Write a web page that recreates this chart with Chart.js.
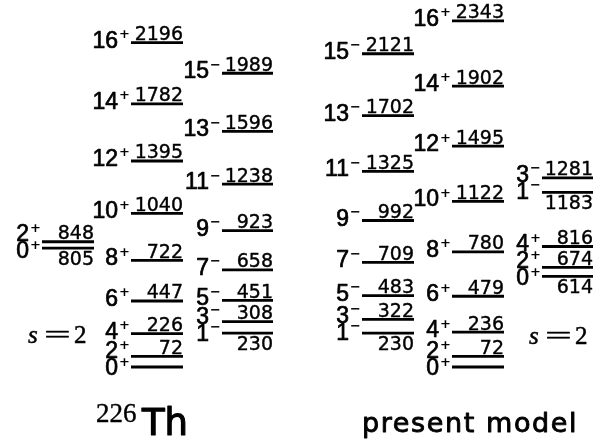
<!DOCTYPE html>
<html>
<head>
<meta charset="utf-8">
<script src="https://cdn.jsdelivr.net/npm/chart.js@4/dist/chart.umd.min.js"></script>
<style>
  html, body { margin: 0; padding: 0; background: #fff; }
  canvas { display: block; }
</style>
</head>
<body>
<canvas id="levels" width="608" height="445"></canvas>
<script>
// level energies (keV)
const thSpinsS2 = ['0+', '2+'];
const thEnergiesS2 = [805, 848];
const thSpinsGsb = ['0+', '2+', '4+', '6+', '8+', '10+', '12+', '14+', '16+'];
const thEnergiesGsb = [0, 72, 226, 447, 722, 1040, 1395, 1782, 2196];
const thSpinsOdd = ['1-', '3-', '5-', '7-', '9-', '11-', '13-', '15-'];
const thEnergiesOdd = [230, 308, 451, 658, 923, 1238, 1596, 1989];

const modelSpinsOdd = ['1-', '3-', '5-', '7-', '9-', '11-', '13-', '15-'];
const modelEnergiesOdd = [230, 322, 483, 709, 992, 1325, 1702, 2121];
const modelSpinsGsb = ['0+', '2+', '4+', '6+', '8+', '10+', '12+', '14+', '16+'];
const modelEnergiesGsb = [0, 72, 236, 479, 780, 1122, 1495, 1902, 2343];
const modelSpinsS2 = ['0+', '2+', '4+', '1-', '3-'];
const modelEnergiesS2 = [614, 674, 816, 1183, 1281];

// column layout (x axis runs 0..608)
const columns = [
  { spins: thSpinsS2, energies: thEnergiesS2, from: 42, to: 94 },
  { spins: thSpinsGsb, energies: thEnergiesGsb, from: 131, to: 183 },
  { spins: thSpinsOdd, energies: thEnergiesOdd, from: 222, to: 273 },
  { spins: modelSpinsOdd, energies: modelEnergiesOdd, from: 362, to: 414 },
  { spins: modelSpinsGsb, energies: modelEnergiesGsb, from: 452, to: 504 },
  { spins: modelSpinsS2, energies: modelEnergiesS2, from: 542, to: 593 }
];

function segments(col) {
  const pts = [];
  col.energies.forEach(e => {
    pts.push({ x: col.from, y: e }, { x: col.to, y: e }, { x: col.to, y: null });
  });
  return pts;
}

// fill text and thicken it a little, like the scanned original
function heavyText(ctx, txt, px, py, w) {
  ctx.lineWidth = w;
  ctx.strokeText(txt, px, py);
  ctx.fillText(txt, px, py);
}

const levelLabels = {
  id: 'levelLabels',
  afterDatasetsDraw(chart) {
    const { ctx, scales: { x, y } } = chart;
    ctx.save();
    ctx.fillStyle = '#000';
    ctx.strokeStyle = '#000';
    ctx.lineJoin = 'round';

    columns.forEach(col => {
      const x0 = x.getPixelForValue(col.from);
      const x1 = x.getPixelForValue(col.to);
      const ys = col.energies.map(e => y.getPixelForValue(e));
      const n = ys.length;

      // energy labels: above the line, or below when the next level is close
      ctx.font = '19px "DejaVu Sans"';
      ctx.textAlign = 'right';
      ctx.textBaseline = 'alphabetic';
      col.energies.forEach((e, i) => {
        if (e === 0) return;
        const next = col.energies[i + 1];
        const below = next !== undefined && next - e < 110;
        heavyText(ctx, String(e), x1, below ? ys[i] + 17 : ys[i] - 2.5, 0.4);
      });

      // spin labels, pushed apart where levels crowd
      const base = ys.map(v => v + 5);
      for (let it = 0; it < 60; it++) {
        for (let i = 0; i < n - 1; i++) {
          const gap = base[i] - base[i + 1];
          if (gap < 17) {
            const s = (17 - gap) / 2;
            base[i] += s;
            base[i + 1] -= s;
          }
        }
      }
      col.spins.forEach((sp, i) => {
        const num = sp.slice(0, -1);
        const sign = sp.slice(-1) === '+' ? '+' : '\u2212';
        ctx.font = '23px "Liberation Sans"';
        ctx.textAlign = 'right';
        ctx.textBaseline = 'alphabetic';
        heavyText(ctx, num, x0 - 13, base[i], 0.7);
        ctx.font = 'bold 13px "DejaVu Sans"';
        ctx.textAlign = 'left';
        ctx.textBaseline = 'middle';
        ctx.fillText(sign, x0 - 12, base[i] - 13);
      });
    });

    // s = 2 tags
    const sTag = (left, baseline) => {
      ctx.textAlign = 'left';
      ctx.textBaseline = 'alphabetic';
      ctx.font = 'italic 25px "Liberation Serif"';
      heavyText(ctx, 's', left, baseline, 0.5);
      ctx.font = '25px "Liberation Serif"';
      ctx.save();
      ctx.translate(left + 16, baseline);
      ctx.scale(1.9, 1);
      heavyText(ctx, '=', 0, 0, 0.4);
      ctx.restore();
      heavyText(ctx, '2', left + 46, baseline, 0.5);
    };
    sTag(x.getPixelForValue(28), 343);
    sTag(x.getPixelForValue(529), 344);

    // titles
    ctx.textAlign = 'left';
    ctx.textBaseline = 'alphabetic';
    ctx.font = '27px "Liberation Serif"';
    heavyText(ctx, '226', x.getPixelForValue(96), 422, 0.4);
    ctx.font = '37px "DejaVu Sans"';
    heavyText(ctx, 'Th', x.getPixelForValue(142), 435, 1.2);
    ctx.font = '27px "DejaVu Sans"';
    ctx.letterSpacing = '1.6px';
    heavyText(ctx, 'present model', x.getPixelForValue(362), 432, 0.9);
    ctx.letterSpacing = '0px';

    ctx.restore();
  }
};

new Chart(document.getElementById('levels'), {
  type: 'scatter',
  data: {
    datasets: columns.map(col => ({
      data: segments(col),
      showLine: true,
      spanGaps: false,
      borderColor: '#000',
      borderWidth: 2.8,
      borderCapStyle: 'butt',
      pointRadius: 0
    }))
  },
  options: {
    responsive: false,
    animation: false,
    events: [],
    layout: { padding: 0 },
    plugins: { legend: { display: false }, tooltip: { enabled: false } },
    scales: {
      x: { type: 'linear', display: false, min: 0, max: 608 },
      y: { type: 'linear', display: false, min: -528, max: 2485 }
    }
  },
  plugins: [levelLabels]
});
</script>
</body>
</html>
